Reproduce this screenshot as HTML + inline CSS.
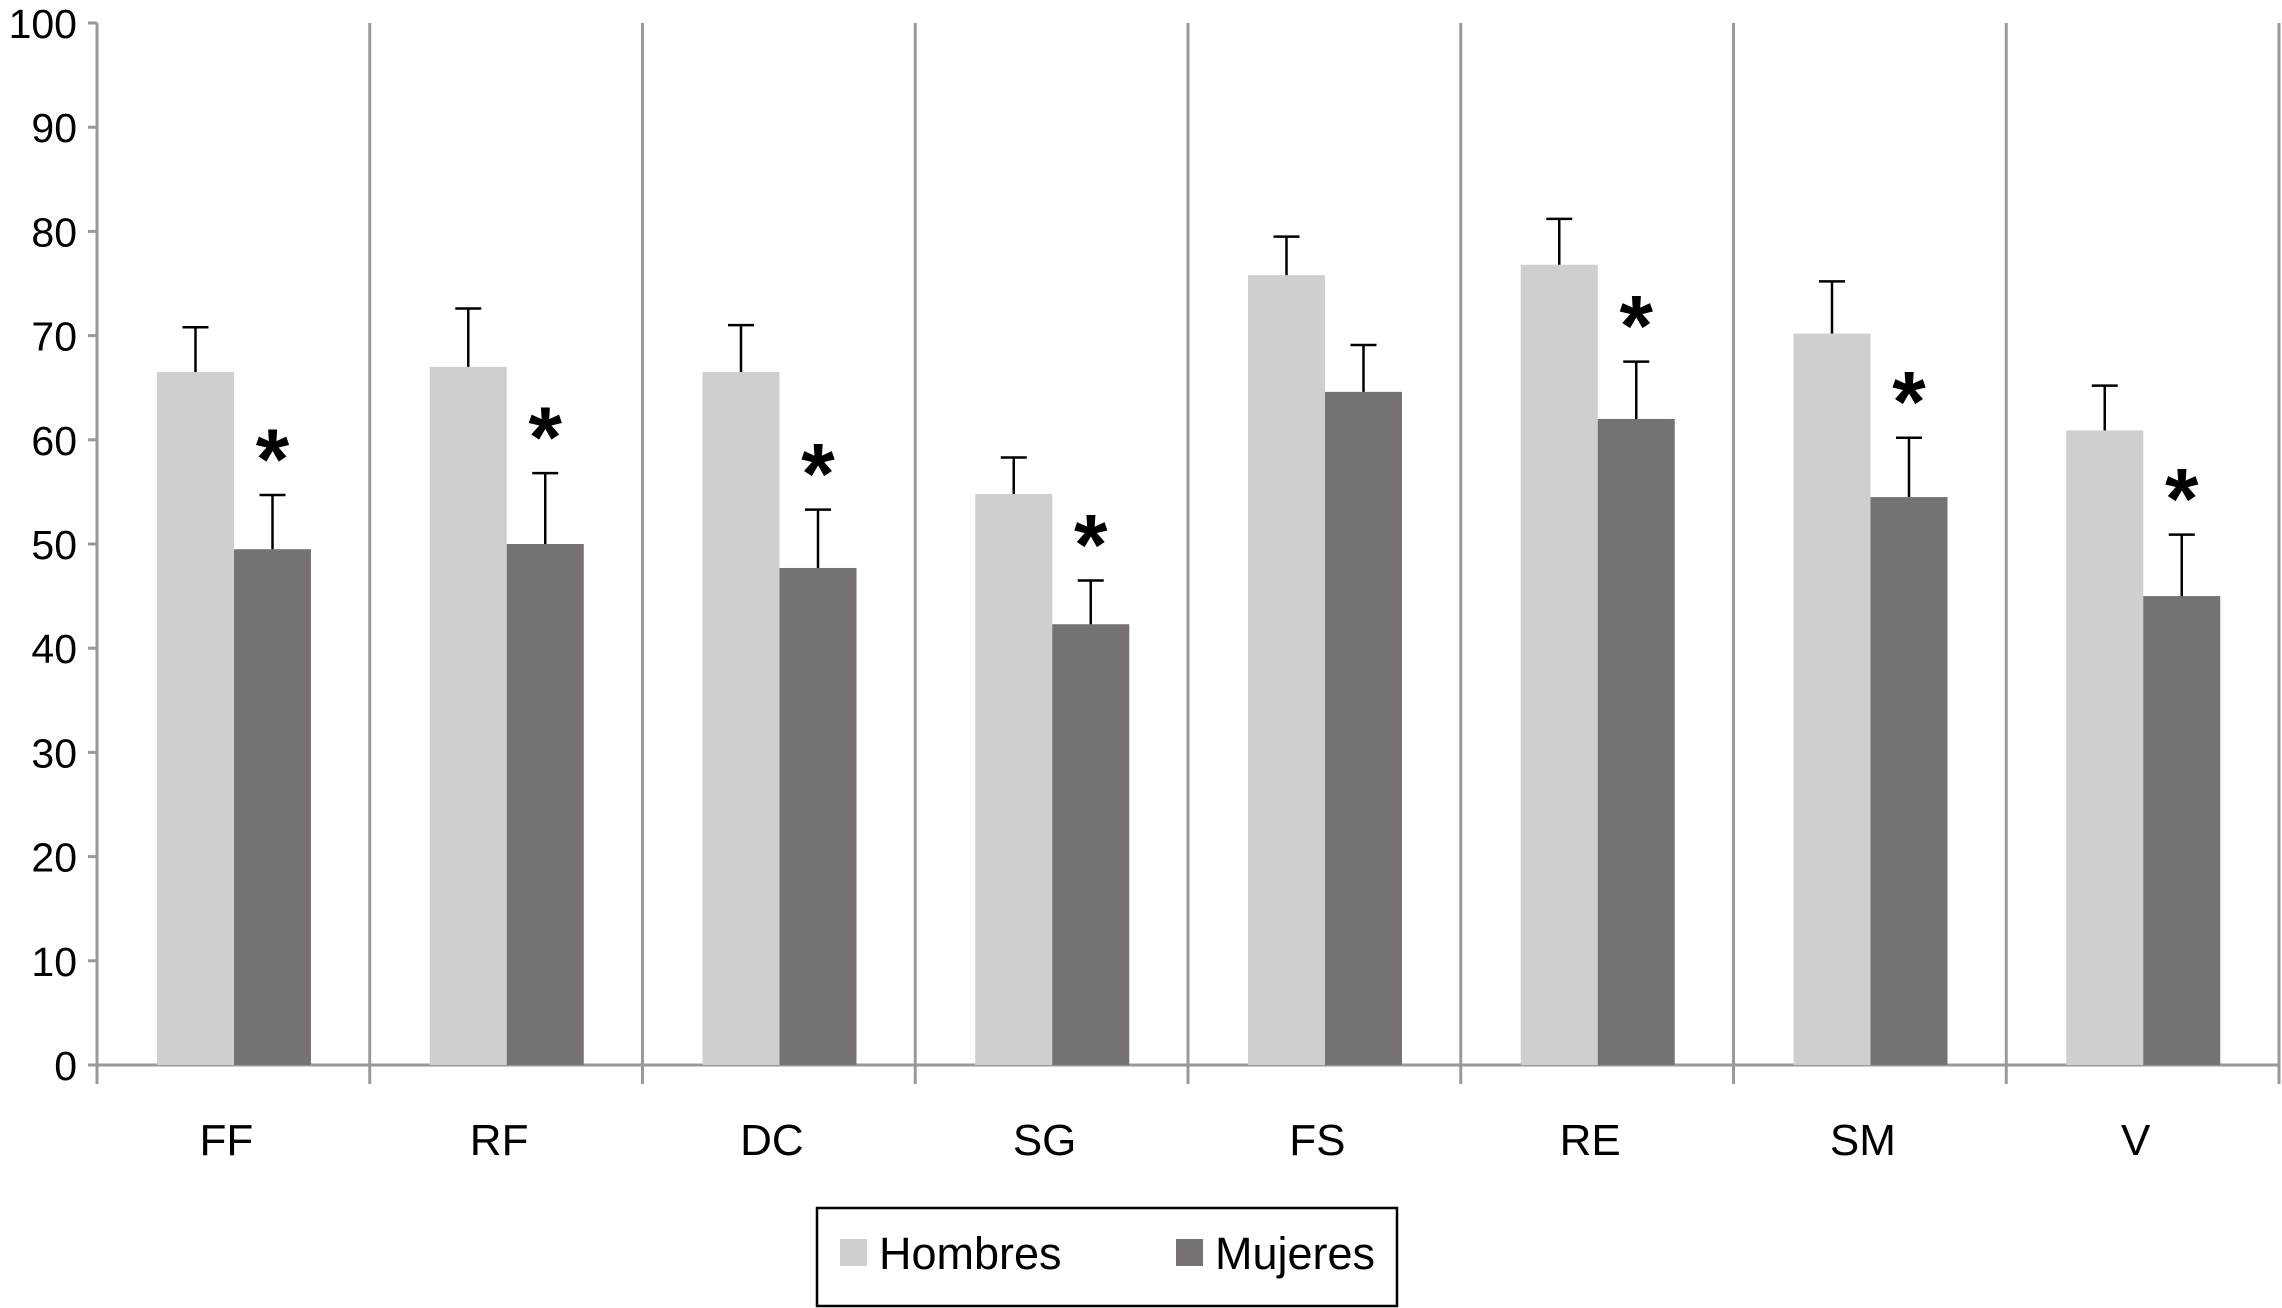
<!DOCTYPE html>
<html><head><meta charset="utf-8"><style>
html,body{margin:0;padding:0;background:#fff;}
svg{display:block;font-family:"Liberation Sans",Arial,sans-serif;}
</style></head><body>
<svg id="chart" width="2282" height="1308" viewBox="0 0 2282 1308">
<g id="axes"></g>
<g id="bars"></g>
<g id="legend">
<rect x="817" y="1208" width="580" height="98" fill="#fff" stroke="#000" stroke-width="2.5"/>
<rect x="840" y="1239" width="27" height="27" fill="#d0cecf"/>
<text x="879" y="1269" font-size="45" fill="#000">Hombres</text>
<rect x="1176" y="1239" width="27" height="27" fill="#767172"/>
<text x="1215" y="1269" font-size="45" fill="#000">Mujeres</text>
</g>
</svg>
<script>
const categories = ["FF","RF","DC","SG","FS","RE","SM","V"];
const hombres = [66.5,67,66.5,54.8,75.8,76.8,70.2,60.9];
const mujeres = [49.5,50,47.7,42.3,64.6,62,54.5,45];
const hombresErr = [70.8,72.6,71,58.3,79.5,81.2,75.2,65.2];
const mujeresErr = [54.7,56.8,53.3,46.5,69.1,67.5,60.2,50.9];
const significant = [true,true,true,true,false,true,true,true];
const yTicks = [0,10,20,30,40,50,60,70,80,90,100];

const NS = "http://www.w3.org/2000/svg";
const X0 = 97, X1 = 2279, Y0 = 1065, YTOP = 23;
const step = (X1 - X0) / categories.length;
const barW = 77, offset = 60;
function y(v){ return Y0 - (v/100)*(Y0 - YTOP); }
function catX(i){ return X0 + i*step; }
function mk(tag, attrs, parent){
  const e = document.createElementNS(NS, tag);
  for (const k in attrs) e.setAttribute(k, attrs[k]);
  parent.appendChild(e); return e;
}
const axes = document.getElementById('axes');
const bars = document.getElementById('bars');

for (let i = 0; i <= categories.length; i++) {
  const l = mk('line', {x1:catX(i), x2:catX(i), y1:YTOP, y2: Y0+19, stroke:'#999', 'stroke-width':3}, axes);
  
  
}
const xa = mk('line', {x1:X0, x2:X1, y1:Y0, y2:Y0, stroke:'#999', 'stroke-width':3}, axes);



yTicks.forEach(t => {
  const tk = mk('line', {x1:X0-9, x2:X0, y1:y(t), y2:y(t), stroke:'#999', 'stroke-width':3}, axes);
  
  
  const tx = mk('text', {x:X0-20, y:y(t)+15, 'font-size':41, 'text-anchor':'end', fill:'#000'}, axes);
  tx.textContent = t;
  
  
});

categories.forEach((c, i) => {
  const cx = catX(i) + step/2 - 7;
  const lb = mk('text', {x:cx, y:1155, 'font-size':44, 'text-anchor':'middle', fill:'#000'}, axes);
  lb.textContent = c;
  
  

  const hx = catX(i) + offset, mx = hx + barW;
  const hb = mk('rect', {x:hx, y:y(hombres[i]), width:barW, height:Y0 - y(hombres[i]), fill:'#d0cecf'}, bars);
  
  
  const mb = mk('rect', {x:mx, y:y(mujeres[i]), width:barW, height:Y0 - y(mujeres[i]), fill:'#767172'}, bars);
  
  

  [[hx, hombres[i], hombresErr[i], 'hombres'], [mx, mujeres[i], mujeresErr[i], 'mujeres']].forEach(([bx, v, e, s]) => {
    const ccx = bx + barW/2;
    const g = mk('g', {stroke:'#000', 'stroke-width':2.5}, bars);
    
    
    mk('line', {x1:ccx, x2:ccx, y1:y(v), y2:y(e)}, g);
    mk('line', {x1:ccx-13, x2:ccx+13, y1:y(e), y2:y(e)}, g);
  });

  if (significant[i]) {
    const st = mk('text', {x:mx + barW/2, y:y(mujeresErr[i]) - 6, 'font-size':86, 'font-weight':'bold', 'text-anchor':'middle', fill:'#000'}, bars);
    st.textContent = '*';
    
    
  }
});
</script>
</body></html>
